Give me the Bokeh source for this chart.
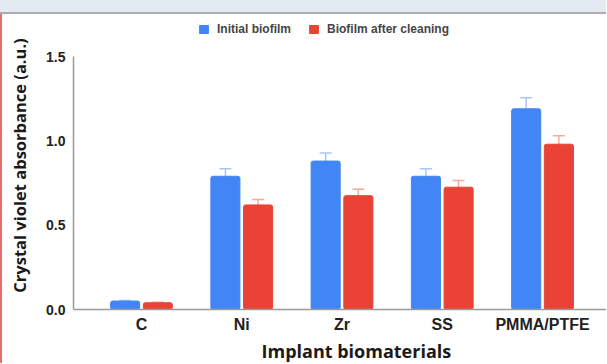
from bokeh.plotting import figure
from bokeh.models import (ColumnDataSource, Whisker, Range1d, FixedTicker, Div,
                          TeeHead, PrintfTickFormatter, Title)
from bokeh.layouts import column
from bokeh.embed import file_html
from bokeh.resources import INLINE

# ---- data ----
categories = ["C", "Ni", "Zr", "SS", "PMMA/PTFE"]
series_names = ["Initial biofilm", "Biofilm after cleaning"]
initial = [0.05, 0.79, 0.88, 0.79, 1.19]
initial_err = [0.004, 0.045, 0.048, 0.044, 0.066]
after = [0.04, 0.62, 0.675, 0.725, 0.98]
after_err = [0.003, 0.032, 0.038, 0.040, 0.050]
y_ticks = [0.0, 0.5, 1.0, 1.5]
y_axis_title = "Crystal violet absorbance (a.u.)"
x_axis_title = "Implant biomaterials"

BLUE = "#4285F4"
RED = "#EA4335"
BLUE_ERR = "#a9c6fa"
RED_ERR = "#f6aaa3"
OFF = 0.163
BAR_W = 0.29

xs = list(range(len(categories)))
src = ColumnDataSource(dict(
    x=xs,
    xa=[x - OFF for x in xs],
    xb=[x + OFF for x in xs],
    initial=initial,
    after=after,
    ia_up=[v + e for v, e in zip(initial, initial_err)],
    ia_lo=[v - e for v, e in zip(initial, initial_err)],
    af_up=[v + e for v, e in zip(after, after_err)],
    af_lo=[v - e for v, e in zip(after, after_err)],
))

# frame spans figure y 7..295 ; value 1.5 sits 253 px above the baseline
Y_TOP = 1.5 * 288 / 253

p = figure(width=606, height=349,
           x_range=Range1d(-0.678, 4.638), y_range=Range1d(0, Y_TOP),
           output_backend="svg", toolbar_location=None,
           min_border_left=73, min_border_right=0,
           min_border_top=7, min_border_bottom=54)
p.styles = {"box-shadow": "inset 2px 0 0 0 #e36f6f"}
p.outline_line_color = None
p.xgrid.grid_line_color = None
p.ygrid.grid_line_color = None
p.background_fill_color = "white"
p.border_fill_alpha = 0

p.vbar(x="xa", top="initial", width=BAR_W, source=src, fill_color=BLUE,
       line_color=BLUE, border_radius=2, legend_label=series_names[0])
p.vbar(x="xb", top="after", width=BAR_W, source=src, fill_color=RED,
       line_color=RED, border_radius=2, legend_label=series_names[1])

for base, up, lo, col in (("xa", "ia_up", "ia_lo", BLUE_ERR),
                          ("xb", "af_up", "af_lo", RED_ERR)):
    w = Whisker(source=src, base=base, upper=up, lower=lo,
                line_color=col, line_width=1.5,
                upper_head=TeeHead(size=12, line_color=col, line_width=1.5),
                lower_head=TeeHead(size=12, line_color=col, line_width=1.5))
    p.add_layout(w)

# axes
for ax in (p.xaxis[0], p.yaxis[0]):
    ax.axis_line_color = "#9a9a9a"
    ax.axis_line_width = 1.5
    ax.major_tick_line_color = None
    ax.minor_tick_line_color = None
    ax.major_tick_out = 0
    ax.major_tick_in = 0
    ax.minor_tick_out = 0
    ax.minor_tick_in = 0
    ax.major_label_text_font = "Liberation Sans"
    ax.major_label_text_font_style = "bold"
    ax.major_label_text_color = "#222222"

p.xaxis.ticker = FixedTicker(ticks=xs)
p.xaxis.major_label_overrides = {i: c for i, c in enumerate(categories)}
p.xaxis.major_label_text_font_size = "16px"
p.xaxis.major_label_standoff = 6

p.yaxis.ticker = FixedTicker(ticks=y_ticks)
p.yaxis.bounds = (0, 1.5)
p.yaxis.formatter = PrintfTickFormatter(format="%.1f")
p.yaxis.major_label_text_font_size = "14px"
p.yaxis.major_label_standoff = 8
p.yaxis.axis_label = y_axis_title
p.yaxis.axis_label_text_font = "Open Sans"
p.yaxis.axis_label_text_font_style = "bold"
p.yaxis.axis_label_text_font_size = "16.5px"
p.yaxis.axis_label_text_color = "#1a1a1a"
p.yaxis.axis_label_standoff = 12

xt = Title(text=x_axis_title, align="left", offset=188, standoff=2,
           text_font="Open Sans", text_font_style="bold",
           text_font_size="18px", text_color="#1a1a1a")
p.add_layout(xt, "below")

# legend, inside the top strip of the frame
lg = p.legend[0]
lg.orientation = "horizontal"
lg.location = (125, 273)
lg.background_fill_alpha = 0
lg.border_line_color = None
lg.padding = 0
lg.margin = 0
lg.spacing = 17
lg.label_standoff = 8
lg.glyph_width = 11
lg.glyph_height = 10
lg.label_height = 12
lg.label_text_font = "Liberation Sans"
lg.label_text_font_size = "12px"
lg.label_text_font_style = "bold"
lg.label_text_color = "#454545"

band = Div(text="", width=606, height=14, margin=0,
           styles={"background-color": "#e4eaf2",
                   "border-bottom": "2px solid #a9adb3",
                   "box-sizing": "border-box"})

layout = column(band, p, spacing=0, margin=0)
open("out.html", "w").write(file_html(layout, INLINE))
